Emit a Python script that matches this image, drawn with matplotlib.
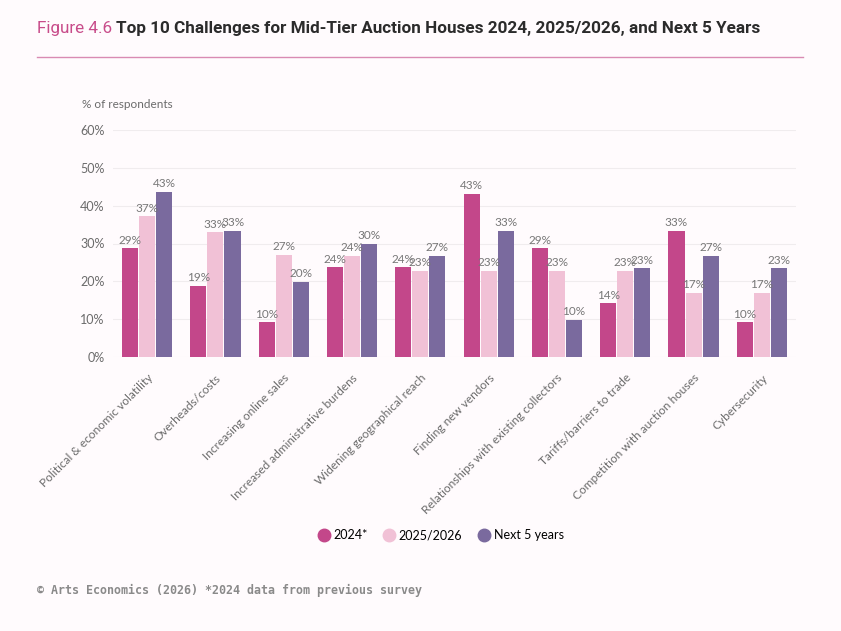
import matplotlib
matplotlib.use("Agg")
import matplotlib.pyplot as plt
from matplotlib.lines import Line2D
import numpy as np

# categories and series (bar heights, labels as printed)
categories = ["Political & economic volatility", "Overheads/costs", "Increasing online sales",
              "Increased administrative burdens", "Widening geographical reach", "Finding new vendors",
              "Relationships with existing collectors", "Tariffs/barriers to trade",
              "Competition with auction houses", "Cybersecurity"]
series_names = ["2024*", "2025/2026", "Next 5 years"]
vals_2024 = [28.7, 18.8, 9.2, 23.7, 23.7, 43.2, 28.7, 14.2, 33.3, 9.2]
vals_2025 = [37.2, 33.0, 27.0, 26.8, 22.8, 22.8, 22.8, 22.8, 17.0, 17.0]
vals_next5 = [43.6, 33.3, 19.9, 30.0, 26.8, 33.3, 9.8, 23.4, 26.8, 23.4]
labels_2024 = [29, 19, 10, 24, 24, 43, 29, 14, 33, 10]
labels_2025 = [37, 33, 27, 24, 23, 23, 23, 23, 17, 17]
labels_next5 = [43, 33, 20, 30, 27, 33, 10, 23, 27, 23]
yticks = [0, 10, 20, 30, 40, 50, 60]

colors = ["#C3478A", "#F1C1D6", "#7A6A9E"]
bg = "#FFFBFD"
grey = "#6b6b6b"

plt.rcParams['font.family'] = ['Lato', 'DejaVu Sans']

fig = plt.figure(figsize=(8.41, 6.31), dpi=100, facecolor=bg)
ax = fig.add_axes([113 / 841, 1 - 357 / 631, 683 / 841, 227 / 631])
ax.set_facecolor(bg)

x = np.arange(len(categories))
w = 0.235
step = 0.25
all_vals = [vals_2024, vals_2025, vals_next5]
all_labels = [labels_2024, labels_2025, labels_next5]
for i in range(3):
    pos = x + (i - 1) * step
    ax.bar(pos, all_vals[i], width=w, color=colors[i], zorder=3)
    for p, v, lab in zip(pos, all_vals[i], all_labels[i]):
        ax.text(p, v + 0.7, f"{lab}%", ha="center", va="bottom", fontsize=8.5, color="#777777", zorder=4)

ax.set_xlim(-0.5, 9.5)
ax.set_ylim(0, 60)
ax.set_yticks(yticks)
ax.set_yticklabels([f"{t}%" for t in yticks], fontsize=9, color=grey)
ax.grid(axis="y", color="#f0ecee", linewidth=0.8, zorder=0)
for s in ax.spines.values():
    s.set_visible(False)
ax.tick_params(axis="y", length=0, pad=6)
ax.tick_params(axis="x", length=0, pad=11)
ax.set_xticks(x)
ax.set_xticklabels(categories, rotation=45, ha="right", rotation_mode="anchor", fontsize=8.6, color=grey)

fig.text(82 / 841, 1 - 104 / 631, "% of respondents", fontsize=8.5, color=grey, va="center")

# title
t1 = fig.text(37 / 841, 1 - 28 / 631, "Figure 4.6", fontsize=12.3, color="#C84C8A", va="center",
              family=["Roboto", "DejaVu Sans"])
fig.canvas.draw()
bb = t1.get_window_extent()
fig.text(bb.x1 / 841 + 4 / 841, 1 - 28 / 631,
         "Top 10 Challenges for Mid-Tier Auction Houses 2024, 2025/2026, and Next 5 Years",
         fontsize=12.3, color="#2b2b2b", va="center", fontweight="bold", family=["Roboto", "DejaVu Sans"])
fig.add_artist(Line2D([37 / 841, 803 / 841], [1 - 57 / 631, 1 - 57 / 631], color="#D98BB3", linewidth=1.0))

handles = [Line2D([], [], marker="o", linestyle="", markersize=9, color=c) for c in colors]
fig.legend(handles, series_names, loc="center", bbox_to_anchor=(439 / 841, 1 - 535 / 631), ncol=3,
           frameon=False, fontsize=9, handletextpad=0.0, columnspacing=1.0, handlelength=1.5)

fig.text(37 / 841, 1 - 590 / 631, "© Arts Economics (2026) *2024 data from previous survey",
         fontsize=8.4, color="#8a8a8a", va="center", fontweight="bold", family=["DejaVu Sans Mono"])

fig.savefig("out.png", dpi=100, facecolor=bg)
